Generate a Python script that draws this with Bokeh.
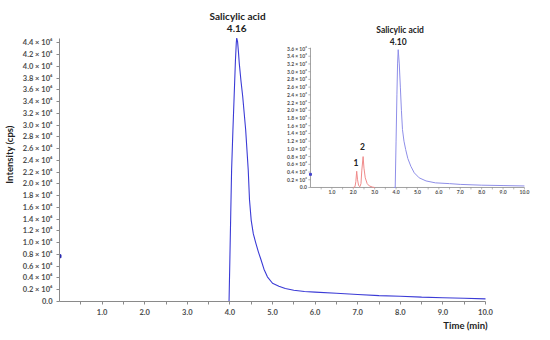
from bokeh.plotting import figure
from bokeh.models import Range1d, FixedTicker, CustomJSTickFormatter, PrintfTickFormatter, Title
from bokeh.core.properties import value
from bokeh.embed import file_html
from bokeh.resources import INLINE

# ---------------- data (intensity in units of 10^6 cps) ----------------
main_t = [3.90, 3.98, 4.00, 4.02, 4.04, 4.07, 4.10, 4.13, 4.15, 4.16, 4.18, 4.20, 4.22,
          4.26, 4.30, 4.37, 4.43, 4.46, 4.50, 4.55, 4.61, 4.67, 4.73, 4.80, 4.88, 5.00,
          5.15, 5.30, 5.50, 5.75, 6.00, 6.50, 7.00, 7.50, 8.00, 8.50, 9.00, 9.50, 10.00]
main_i = [0.00, 0.00, 0.75, 1.50, 2.24, 2.90, 3.50, 4.10, 4.40, 4.48, 4.42, 4.25, 4.05,
          3.75, 3.49, 2.92, 2.24, 1.73, 1.38, 1.15, 0.99, 0.84, 0.71, 0.55, 0.42, 0.31,
          0.26, 0.22, 0.19, 0.17, 0.16, 0.14, 0.12, 0.10, 0.09, 0.075, 0.065, 0.055, 0.045]

inset_blue_t = [3.90, 3.96, 4.00, 4.04, 4.07, 4.10, 4.15, 4.20, 4.25, 4.30, 4.37, 4.45,
                4.55, 4.69, 4.85, 5.08, 5.40, 5.84, 6.50, 7.00, 8.00, 9.00, 10.00]
inset_blue_i = [0.00, 0.00, 1.20, 2.40, 3.20, 3.57, 3.20, 2.60, 2.00, 1.50, 1.20, 0.98,
                0.75, 0.55, 0.38, 0.25, 0.17, 0.12, 0.10, 0.08, 0.06, 0.05, 0.04]

inset_red_t = [2.00, 2.08, 2.12, 2.16, 2.20, 2.25, 2.31, 2.36, 2.40, 2.46, 2.50, 2.56,
               2.65, 2.75, 2.90, 3.00]
inset_red_i = [0.00, 0.02, 0.15, 0.42, 0.20, 0.05, 0.02, 0.10, 0.45, 0.80, 0.50, 0.25,
               0.10, 0.04, 0.01, 0.00]

main_marker_t = [0.0]
main_marker_i = [0.77]
inset_marker_t = [0.0]
inset_marker_i = [0.34]

x_ticks = [1, 2, 3, 4, 5, 6, 7, 8, 9, 10]
x_minor = [0.5, 1.5, 2.5, 3.5, 4.5, 5.5, 6.5, 7.5, 8.5, 9.5]
y_ticks = [0.0, 0.2, 0.4, 0.6, 0.8, 1.0, 1.2, 1.4, 1.6, 1.8, 2.0, 2.2, 2.4, 2.6, 2.8,
           3.0, 3.2, 3.4, 3.6, 3.8, 4.0, 4.2, 4.4]
inset_x_ticks = [1, 2, 3, 4, 5, 6, 7, 8, 9, 10]
inset_x_minor = [0.5, 1.5, 2.5, 3.5, 4.5, 5.5, 6.5, 7.5, 8.5, 9.5]
inset_y_ticks = [0.0, 0.2, 0.4, 0.6, 0.8, 1.0, 1.2, 1.4, 1.6, 1.8, 2.0, 2.2, 2.4, 2.6,
                 2.8, 3.0, 3.2, 3.4, 3.6]

FONT = "Lato"
GREY = "#4d4d4d"
AXIS = "#8a8a8a"
BLUE = "#3b3bd6"
LBLUE = "#8e8ee8"
RED = "#f08a8a"

p = figure(width=534, height=331, x_range=Range1d(0, 11.15), y_range=Range1d(0, 5.0),
           output_backend="svg", toolbar_location=None,
           min_border_left=59, min_border_right=0, min_border_top=7, min_border_bottom=30)
p.extra_x_ranges = {"ix": Range1d(-11.73, 10.47)}
p.extra_y_ranges = {"iy": Range1d(-2.953, 4.662)}
p.grid.visible = False
p.outline_line_color = None
p.background_fill_color = "white"

# main axes
xa = p.xaxis[0]
xa.bounds = (0, 10)
xa.ticker = FixedTicker(ticks=x_ticks, minor_ticks=x_minor)
xa.formatter = PrintfTickFormatter(format="%.1f")
ya = p.yaxis[0]
ya.bounds = (0, 4.48)
ya.ticker = FixedTicker(ticks=y_ticks, minor_ticks=[])
ya.formatter = CustomJSTickFormatter(code="return tick == 0 ? '0.0' : tick.toFixed(1) + ' \u00d7 10\u2076';")
for ax in (xa, ya):
    ax.axis_line_color = AXIS
    ax.major_tick_line_color = AXIS
    ax.minor_tick_line_color = AXIS
    ax.major_tick_in = 0
    ax.major_tick_out = 3
    ax.minor_tick_in = 0
    ax.minor_tick_out = 3
    ax.major_label_text_font = FONT
    ax.major_label_text_font_style = "bold"
    ax.major_label_text_font_size = "7.5px"
    ax.major_label_text_color = GREY
    ax.major_label_standoff = 4
ya.axis_label = "Intensity (cps)"
ya.axis_label_text_font = FONT
ya.axis_label_text_font_style = "bold"
ya.axis_label_text_font_size = "9.5px"
ya.axis_label_text_color = "#222222"
ya.axis_label_standoff = 5

p.add_layout(Title(text="Time (min)", align="right", offset=47, standoff=0,
                   text_font=FONT, text_font_style="bold", text_font_size="9.5px",
                   text_color="#222222"), "below")

# main curve
p.line(main_t, main_i, line_color=BLUE, line_width=1.1)
p.scatter(main_marker_t, main_marker_i, marker="square", size=3, color="#2b2bb0")

p.text(x=[4.18], y=[4.85], text=["Salicylic acid"], text_align="center", text_baseline="middle",
       text_font=value(FONT), text_font_style="bold", text_font_size="10px", text_color="#222222")
p.text(x=[4.16], y=[4.65], text=["4.16"], text_align="center", text_baseline="middle",
       text_font=value(FONT), text_font_style="bold", text_font_size="10px", text_color="#222222")

# ---------------- inset (drawn through the extra ranges) ----------------
IR = dict(x_range_name="ix", y_range_name="iy")
p.segment(x0=[0], y0=[0], x1=[10], y1=[0], line_color=AXIS, line_width=0.8, **IR)
p.segment(x0=[0], y0=[0], x1=[0], y1=[3.62], line_color=AXIS, line_width=0.8, **IR)
p.segment(x0=[-0.1] * len(inset_y_ticks), y0=inset_y_ticks, x1=[0] * len(inset_y_ticks),
          y1=inset_y_ticks, line_color=AXIS, line_width=0.6, **IR)
all_x = inset_x_ticks + inset_x_minor
p.segment(x0=all_x, y0=[0] * len(all_x), x1=all_x, y1=[-0.05] * len(all_x),
          line_color=AXIS, line_width=0.6, **IR)
p.text(x=[-0.17] * len(inset_y_ticks), y=inset_y_ticks,
       text=["0.0" if v == 0 else f"{v:.1f} \u00d7 10\u2076" for v in inset_y_ticks],
       text_align="right", text_baseline="middle", text_font=value(FONT), text_font_style="bold",
       text_font_size="5px", text_color=GREY, **IR)
p.text(x=inset_x_ticks, y=[-0.07] * len(inset_x_ticks),
       text=[f"{v:.1f}" for v in inset_x_ticks],
       text_align="center", text_baseline="top", text_font=value(FONT), text_font_style="bold",
       text_font_size="5px", text_color=GREY, **IR)

p.line(inset_red_t, inset_red_i, line_color=RED, line_width=1, **IR)
p.line(inset_blue_t, inset_blue_i, line_color=LBLUE, line_width=1, **IR)
p.scatter(inset_marker_t, inset_marker_i, marker="square", size=2, color="#4444cc", **IR)

p.text(x=[4.19], y=[4.07], text=["Salicylic acid"], text_align="center", text_baseline="middle",
       text_font=value(FONT), text_font_style="bold", text_font_size="8.5px", text_color="#222222", **IR)
p.text(x=[4.10], y=[3.77], text=["4.10"], text_align="center", text_baseline="middle",
       text_font=value(FONT), text_font_style="bold", text_font_size="8.5px", text_color="#222222", **IR)
p.text(x=[2.12, 2.43], y=[0.64, 1.07], text=["1", "2"], text_align="center", text_baseline="middle",
       text_font=value(FONT), text_font_style="bold", text_font_size="8.5px", text_color="#222222", **IR)

open("out.html", "w").write(file_html(p, INLINE))
